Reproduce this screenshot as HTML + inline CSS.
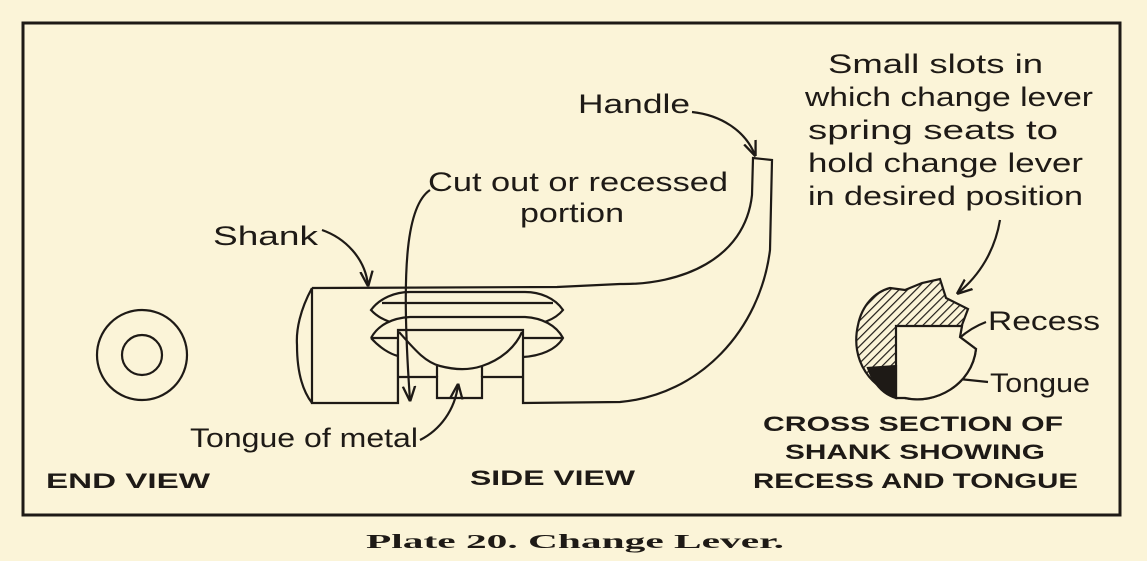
<!DOCTYPE html>
<html><head><meta charset="utf-8"><style>
html,body{margin:0;padding:0;background:#fbf4d8;}
svg{display:block;}
text{font-family:"Liberation Sans",sans-serif;fill:#1e1a16;}
.h{font-size:27px;}
.b{font-size:21px;font-weight:bold;}
</style></head><body>
<svg width="1147" height="561" viewBox="0 0 1147 561" xmlns="http://www.w3.org/2000/svg">
<defs>
<pattern id="hat" width="6" height="6" patternUnits="userSpaceOnUse" patternTransform="rotate(45)">
<rect width="6" height="6" fill="#fbf4d8"/><line x1="0" y1="0" x2="0" y2="6" stroke="#1e1a16" stroke-width="2.4"/>
</pattern>
<marker id="ar" viewBox="0 0 10 10" refX="9" refY="5" markerWidth="7" markerHeight="7" orient="auto"><path d="M0,1 L10,5 L0,9" fill="none" stroke="#1e1a16" stroke-width="1.5"/></marker>
</defs>
<rect x="0" y="0" width="1147" height="561" fill="#fbf4d8"/>
<rect x="23" y="23" width="1097" height="492" fill="none" stroke="#1e1a16" stroke-width="3"/>

<g fill="none" stroke="#1e1a16" stroke-width="2.2">
<circle cx="142" cy="355" r="45"/>
<circle cx="142" cy="355" r="20"/>

<path d="M312,288 L312,403 L398,403 L398,330 L523,330 L523,403 L620,402 C700,395 760,330 770,250 L772,160 L753,158 L752,195 C745,260 680,285 620,284 L557,287 L312,288"/>
<path d="M312,288 C300,310 296,330 297,345 C297,370 302,390 312,403"/>
<path d="M371,310 C380,298 395,292 410,292 L525,292 C540,292 555,298 563,310 C555,320 540,325 525,325 L410,325 C395,325 380,320 371,310 Z" fill="#fbf4d8"/>
<line x1="382" y1="303" x2="553" y2="303"/>
<path d="M371,338 C378,325 392,318 410,317 L525,317 C542,318 556,325 563,338 C556,350 540,356 523,357" fill="#fbf4d8"/>
<path d="M371,338 C380,348 390,354 398,356"/>
<line x1="371" y1="338" x2="563" y2="338"/>
<rect x="398" y="330" width="125" height="73" fill="#fbf4d8" stroke="none"/>
<path d="M398,403 L398,330 L523,330 L523,403"/>
<path d="M398,377 L437,377 L437,398 L482,398 L482,377 L523,377"/>
<path d="M399,332 C415,350 425,362 440,366 C455,370 470,370 482,366 C500,360 515,348 522,332"/>
<line x1="437" y1="366" x2="437" y2="377"/>
<line x1="482" y1="366" x2="482" y2="377"/>

<path d="M322,230 C345,238 365,258 368,285" marker-end="url(#ar)"/>
<path d="M692,112 C720,115 745,130 755,155" marker-end="url(#ar)"/>
<path d="M430,190 C408,205 400,260 410,400" marker-end="url(#ar)"/>
<path d="M420,440 C440,430 455,410 458,385" marker-end="url(#ar)"/>

<path d="M1000,220 C995,250 980,275 958,293" marker-end="url(#ar)"/>
<path d="M986,322 C965,330 950,345 941,360" marker-end="url(#ar)"/>
<path d="M988,382 L940,377 L898,377" marker-end="url(#ar)"/>
</g>

<g stroke="#1e1a16" stroke-width="2.2">
<path d="M890,288 L905,290 L922,283 L940,279 L946,298 L968,309 L962,325 L960,337 L976,349 C972,385 935,405 905,398 C870,390 850,360 858,325 C862,305 875,292 890,288 Z" fill="url(#hat)"/>
<path d="M896,326 L962,326 L960,337 L976,349 C972,385 935,405 905,398 L896,398 Z" fill="#fbf4d8"/>
<path d="M868,368 L896,366 L896,398 C882,394 873,382 868,368 Z" fill="#1e1a16"/>
</g>

<text class="h" x="578" y="113" textLength="112" lengthAdjust="spacingAndGlyphs">Handle</text>
<text class="h" x="428" y="191" textLength="300" lengthAdjust="spacingAndGlyphs">Cut out or recessed</text>
<text class="h" x="520" y="222" textLength="104" lengthAdjust="spacingAndGlyphs">portion</text>
<text class="h" x="213" y="245" textLength="105" lengthAdjust="spacingAndGlyphs">Shank</text>
<text class="h" x="190" y="447" textLength="228" lengthAdjust="spacingAndGlyphs">Tongue of metal</text>
<text class="h" x="828" y="73" textLength="215" lengthAdjust="spacingAndGlyphs">Small slots in</text>
<text class="h" x="805" y="106" textLength="288" lengthAdjust="spacingAndGlyphs">which change lever</text>
<text class="h" x="808" y="139" textLength="250" lengthAdjust="spacingAndGlyphs">spring seats  to</text>
<text class="h" x="808" y="172" textLength="275" lengthAdjust="spacingAndGlyphs">hold change lever</text>
<text class="h" x="808" y="205" textLength="275" lengthAdjust="spacingAndGlyphs">in desired position</text>
<text class="h" x="988" y="330" textLength="112" lengthAdjust="spacingAndGlyphs">Recess</text>
<text class="h" x="990" y="392" textLength="100" lengthAdjust="spacingAndGlyphs">Tongue</text>
<text class="b" x="46" y="488" textLength="164" lengthAdjust="spacingAndGlyphs">END VIEW</text>
<text class="b" x="470" y="485" textLength="165" lengthAdjust="spacingAndGlyphs">SIDE VIEW</text>
<text class="b" x="763" y="431" textLength="300" lengthAdjust="spacingAndGlyphs">CROSS SECTION OF</text>
<text class="b" x="785" y="459" textLength="260" lengthAdjust="spacingAndGlyphs">SHANK SHOWING</text>
<text class="b" x="753" y="488" textLength="325" lengthAdjust="spacingAndGlyphs">RECESS AND TONGUE</text>
<text x="366" y="548" style="font-family:'Liberation Serif',serif;font-weight:bold;font-size:20px;" textLength="418" lengthAdjust="spacingAndGlyphs">Plate 20.  Change Lever.</text>
</svg>
</body></html>
